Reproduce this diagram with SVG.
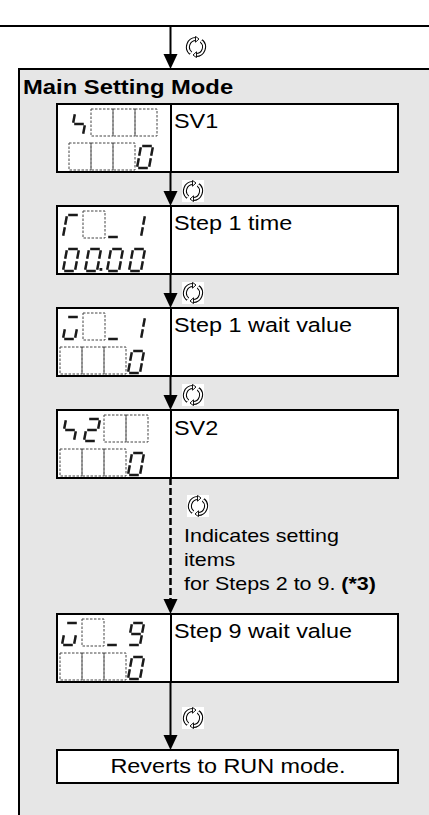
<svg xmlns="http://www.w3.org/2000/svg" xmlns:xlink="http://www.w3.org/1999/xlink" width="429" height="815" viewBox="0 0 429 815">
<style>
.frame{fill:#e6e6e6;stroke:#000;stroke-width:2}
.box{fill:#fff;stroke:#000;stroke-width:2}
.div{stroke:#000;stroke-width:2}
.lbl{font-family:"Liberation Sans",Arial,sans-serif;font-size:19.5px;fill:#000}
.ttl{font-family:"Liberation Sans",Arial,sans-serif;font-size:19.5px;font-weight:bold;fill:#000}
.ann{font-family:"Liberation Sans",Arial,sans-serif;font-size:18.5px;fill:#000}
.lcd{fill:none;stroke:#1a1a1a;stroke-width:2.5}
.cell{fill:none;stroke:#444;stroke-width:1;stroke-dasharray:2.5 1.5}
.con{stroke:#000;stroke-width:2;fill:none}
.dash{stroke:#000;stroke-width:2.5;fill:none;stroke-dasharray:7 3}
</style>
<defs>
<marker id="ah" markerUnits="userSpaceOnUse" markerWidth="16" markerHeight="16" viewBox="0 -8 16 16" refX="5" refY="0" orient="auto">
<path d="M0 -7L15 0L0 7z" fill="#000"/>
</marker>
<path id="g0" d="M5.2 1H14.8M15.8 2.2L14.2 10.8M13.8 13.2L12.2 21.8M1.2 23H10.8M1.8 13.2L0.2 21.8M3.8 2.2L2.2 10.8"/>
<path id="g1" d="M15.8 2.2L14.2 10.8M13.8 13.2L12.2 21.8"/>
<path id="gS" d="M3.8 2.2L2.2 10.8M3.2 12H12.8M13.8 13.2L12.2 21.8"/>
<path id="g2" d="M5.2 1H14.8M15.8 2.2L14.2 10.8M3.2 12H12.8M1.8 13.2L0.2 21.8M1.2 23H10.8"/>
<path id="gR" d="M5.2 1H14.8M3.8 2.2L2.2 10.8M1.8 13.2L0.2 21.8"/>
<path id="gU" d="M1.2 23H10.8"/>
<path id="gW" d="M5.2 1H14.8M13.8 13.2L12.2 21.8M1.2 23H10.8M1.8 13.2L0.2 21.8"/>
<path id="g9" d="M5.2 1H14.8M15.8 2.2L14.2 10.8M13.8 13.2L12.2 21.8M1.2 23H10.8M3.8 2.2L2.2 10.8M3.2 12H12.8"/>
<symbol id="cyc" viewBox="0 0 22 22">
<rect width="22" height="22" fill="#fff"/>
<path d="M16.2 4.9A8 8 0 0 1 11 19M5.8 17.1A8 8 0 0 1 11 3" fill="none" stroke="#000" stroke-width="4"/>
<path d="M16.2 4.9A8 8 0 0 1 11 19M5.8 17.1A8 8 0 0 1 11 3" fill="none" stroke="#fff" stroke-width="2"/>
<path d="M11.5 15.8L8 19L11.5 21.6zM10.5 0.4L14 3L10.5 6.2z" fill="#fff" stroke="#000" stroke-width="0.9"/>
</symbol>
</defs>

<line x1="0" y1="26" x2="429" y2="26" stroke="#000" stroke-width="2"/>
<g id="main-setting-mode">
<rect class="frame" x="19" y="69" width="420" height="760"/>
<text class="ttl" transform="translate(23 94) scale(1.22 1)">Main Setting Mode</text>
</g>

<g id="connectors">
<line class="con" x1="170.5" y1="26" x2="170.5" y2="59" marker-end="url(#ah)"/>
<line class="con" x1="170.5" y1="172" x2="170.5" y2="196" marker-end="url(#ah)"/>
<line class="con" x1="170.5" y1="274" x2="170.5" y2="298" marker-end="url(#ah)"/>
<line class="con" x1="170.5" y1="376" x2="170.5" y2="400" marker-end="url(#ah)"/>
<line class="dash" x1="170.5" y1="478" x2="170.5" y2="604" marker-end="url(#ah)"/>
<line class="con" x1="170.5" y1="682" x2="170.5" y2="740" marker-end="url(#ah)"/>
<use href="#cyc" x="185" y="36" width="22" height="22"/>
<use href="#cyc" x="182" y="180" width="22" height="22"/>
<use href="#cyc" x="182" y="282" width="22" height="22"/>
<use href="#cyc" x="182" y="384" width="22" height="22"/>
<use href="#cyc" x="187" y="495" width="22" height="22"/>
<use href="#cyc" x="182" y="707" width="22" height="22"/>
<text class="ann" transform="translate(184 542) scale(1.16 1)">Indicates setting</text>
<text class="ann" transform="translate(184 566) scale(1.16 1)">items</text>
<text class="ann" transform="translate(184 590) scale(1.16 1)">for Steps 2 to 9. <tspan font-weight="bold">(*3)</tspan></text>
</g>

<g id="node-sv1">
<rect class="box" x="57" y="104" width="341" height="68"/>
<line class="div" x1="171" y1="104" x2="171" y2="172"/>
<rect class="cell" x="91" y="109" width="22" height="27"/>
<rect class="cell" x="113" y="109" width="22" height="27"/>
<rect class="cell" x="135" y="109" width="22" height="27"/>
<rect class="cell" x="69" y="143" width="22" height="27"/>
<rect class="cell" x="91" y="143" width="22" height="27"/>
<rect class="cell" x="113" y="143" width="22" height="27"/>
<g class="lcd">
<use href="#gS" x="71" y="112"/>
<use href="#g0" x="137" y="145"/>
</g>
<text class="lbl" transform="translate(174 128) scale(1.2 1)">SV1</text>
</g>

<g id="node-step1-time">
<rect class="box" x="57" y="206" width="341" height="68"/>
<line class="div" x1="171" y1="206" x2="171" y2="274"/>
<rect class="cell" x="83" y="211" width="22" height="27"/>
<g class="lcd">
<use href="#gR" x="63" y="214"/>
<use href="#gU" x="107" y="214"/>
<use href="#g1" x="129" y="214"/>
<use href="#g0" x="63" y="248"/>
<use href="#g0" x="85" y="248"/>
<use href="#g0" x="107" y="248"/>
<use href="#g0" x="129" y="248"/>
</g>
<rect x="99.5" y="268" width="2.8" height="2.8" fill="#1a1a1a"/>
<text class="lbl" transform="translate(174 230) scale(1.2 1)">Step 1 time</text>
</g>

<g id="node-step1-wait">
<rect class="box" x="57" y="308" width="341" height="68"/>
<line class="div" x1="171" y1="308" x2="171" y2="376"/>
<rect class="cell" x="83" y="313" width="22" height="27"/>
<rect class="cell" x="60" y="347" width="22" height="27"/>
<rect class="cell" x="82" y="347" width="22" height="27"/>
<rect class="cell" x="104" y="347" width="22" height="27"/>
<g class="lcd">
<use href="#gW" x="63" y="316"/>
<use href="#gU" x="107" y="316"/>
<use href="#g1" x="129" y="316"/>
<use href="#g0" x="128" y="350"/>
</g>
<text class="lbl" transform="translate(174 332) scale(1.2 1)">Step 1 wait value</text>
</g>

<g id="node-sv2">
<rect class="box" x="57" y="410" width="341" height="68"/>
<line class="div" x1="171" y1="410" x2="171" y2="478"/>
<rect class="cell" x="104" y="415" width="22" height="27"/>
<rect class="cell" x="126" y="415" width="22" height="27"/>
<rect class="cell" x="60" y="449" width="22" height="27"/>
<rect class="cell" x="82" y="449" width="22" height="27"/>
<rect class="cell" x="104" y="449" width="22" height="27"/>
<g class="lcd">
<use href="#gS" x="62" y="418"/>
<use href="#g2" x="84" y="418"/>
<use href="#g0" x="128" y="452"/>
</g>
<text class="lbl" transform="translate(174 435) scale(1.2 1)">SV2</text>
</g>

<g id="node-step9-wait">
<rect class="box" x="57" y="614" width="341" height="68"/>
<line class="div" x1="171" y1="614" x2="171" y2="682"/>
<rect class="cell" x="82" y="619" width="22" height="27"/>
<rect class="cell" x="60" y="653" width="22" height="27"/>
<rect class="cell" x="82" y="653" width="22" height="27"/>
<rect class="cell" x="104" y="653" width="22" height="27"/>
<g class="lcd">
<use href="#gW" x="62" y="622"/>
<use href="#gU" x="106" y="622"/>
<use href="#g9" x="128" y="622"/>
<use href="#g0" x="128" y="656"/>
</g>
<text class="lbl" transform="translate(174 638) scale(1.2 1)">Step 9 wait value</text>
</g>

<g id="node-run">
<rect class="box" x="57" y="750" width="341" height="33"/>
<text class="lbl" text-anchor="middle" transform="translate(228 773) scale(1.2 1)">Reverts to RUN mode.</text>
</g>
</svg>
